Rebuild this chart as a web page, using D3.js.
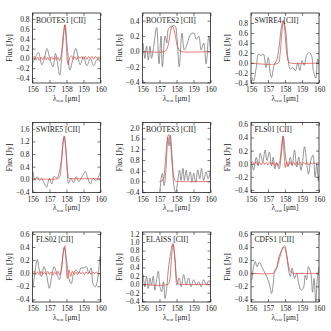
<!DOCTYPE html>
<html lang="en">
<head>
<meta charset="UTF-8">
<title>[CII] spectra</title>
<script src="https://d3js.org/d3.v7.min.js"></script>
<style>
  body { margin: 0; background: #fff; }
  svg text { font-family: "Liberation Serif", "DejaVu Serif", serif; fill: #1a1a1a; }
</style>
</head>
<body>
<div id="chart"></div>
<script>
// panel names and axis settings
var panelNames = ["BOOTES1 [CII]", "BOOTES2 [CII]", "SWIRE4 [CII]",
                  "SWIRE5 [CII]", "BOOTES3 [CII]", "FLS01 [CII]",
                  "FLS02 [CII]", "ELAISS [CII]", "CDFS1 [CII]"];
var xTicks = [156, 157, 158, 159, 160];
var yDomains = [[-0.5, 0.92], [-0.41, 0.5], [-0.4, 1.0],
                [-0.42, 1.8], [-0.41, 2.2], [-0.44, 0.63],
                [-0.44, 0.63], [-0.42, 1.24], [-0.44, 0.63]];
var yTicks = [
  [-0.4, -0.2, 0.0, 0.2, 0.4, 0.6, 0.8],
  [-0.4, -0.2, 0.0, 0.2, 0.4],
  [-0.4, -0.2, 0.0, 0.2, 0.4, 0.6, 0.8],
  [-0.4, 0.0, 0.4, 0.8, 1.2, 1.6],
  [-0.4, 0.0, 0.4, 0.8, 1.2, 1.6, 2.0],
  [-0.4, -0.2, 0.0, 0.2, 0.4, 0.6],
  [-0.4, -0.2, 0.0, 0.2, 0.4, 0.6],
  [-0.4, -0.2, 0.0, 0.2, 0.4, 0.6, 0.8, 1.0, 1.2],
  [-0.4, -0.2, 0.0, 0.2, 0.4, 0.6]
];

// observed spectra [lambda_rest, flux]
var obsBootes1 = [[156.0,-0.10],[156.15,0.0],[156.35,0.12],[156.55,-0.13],[156.7,0.0],[156.85,0.20],[157.0,0.02],
  [157.2,-0.17],[157.35,0.10],[157.45,-0.05],[157.6,-0.34],[157.75,0.15],[157.92,0.68],[158.05,0.2],[158.2,-0.24],
  [158.35,-0.05],[158.55,0.20],[158.8,-0.13],[159.0,0.03],[159.2,-0.15],[159.4,0.0],[159.6,-0.15],[159.8,-0.02],[160.0,-0.07]];
var obsBootes2 = [[156.04,0.11],[156.14,-0.09],[156.24,0.07],[156.34,-0.11],[156.44,0.07],[156.53,-0.09],[156.63,0.02],
  [156.83,0.31],[156.97,-0.16],[157.09,0.2],[157.17,-0.2],[157.33,0.2],[157.43,0.11],[157.52,0.29],[157.72,0.33],
  [157.92,0.33],[158.02,0.2],[158.16,-0.2],[158.32,0.24],[158.46,0.02],[158.65,0.11],[158.81,0.22],[159.01,0.24],
  [159.17,0.16],[159.31,0.2],[159.45,0.02],[159.6,0.11],[159.74,-0.16],[159.9,0.2],[160.0,-0.02]];
var obsSwire4 = [[156.06,-0.29],[156.15,-0.36],[156.31,-0.09],[156.44,0.18],[156.58,0.15],[156.73,0.18],[156.88,-0.09],
  [157.02,0.11],[157.12,-0.19],[157.21,-0.29],[157.35,-0.05],[157.5,0.05],[157.65,0.32],[157.79,0.72],[157.9,0.85],
  [158.04,0.65],[158.17,0.11],[158.31,-0.12],[158.46,-0.09],[158.62,-0.15],[158.75,0.01],[158.87,-0.15],[159.0,0.05],
  [159.13,-0.05],[159.27,0.15],[159.42,0.21],[159.56,0.15],[159.67,-0.15],[159.81,-0.3],[159.92,0.08],[160.0,-0.02]];
var obsSwire5 = [[156.04,0.24],[156.14,-0.02],[156.28,0.08],[156.4,-0.04],[156.53,0.03],[156.67,-0.11],[156.83,-0.25],
  [156.99,0.03],[157.13,-0.15],[157.27,0.1],[157.43,0.03],[157.58,0.24],[157.72,0.72],[157.86,1.36],[158.0,0.72],
  [158.12,-0.13],[158.26,0.03],[158.42,-0.11],[158.57,0.08],[158.73,-0.07],[158.91,0.08],[159.11,0.24],[159.25,0.03],
  [159.41,-0.15],[159.56,0.03],[159.72,-0.04],[159.84,0.03],[160.0,0.24]];
var obsBootes3 = [[157.03,-0.35],[157.11,0.17],[157.17,0.3],[157.27,-0.15],[157.39,0.55],[157.49,1.65],[157.56,1.33],
  [157.64,1.72],[157.74,0.94],[157.86,-0.22],[157.96,-0.41],[158.06,-0.03],[158.18,0.43],[158.26,0.04],[158.38,0.49],
  [158.46,0.04],[158.57,0.43],[158.67,0.04],[158.81,0.36],[158.91,-0.03],[159.01,0.3],[159.13,-0.03],[159.25,0.43],
  [159.37,0.1],[159.47,0.49],[159.6,0.04],[159.74,0.36],[159.86,0.1],[160.0,0.43]];
var obsFls01 = [[156.06,0.0],[156.15,-0.1],[156.31,0.1],[156.42,-0.03],[156.54,0.16],[156.69,0.03],[156.83,0.21],
  [156.94,0.05],[157.08,0.18],[157.21,-0.03],[157.31,0.1],[157.4,-0.08],[157.52,0.01],[157.65,-0.08],[157.79,0.16],
  [157.9,0.42],[158.04,0.1],[158.17,-0.05],[158.31,0.1],[158.42,-0.03],[158.56,0.21],[158.69,-0.05],[158.81,0.1],
  [158.94,-0.1],[159.04,0.05],[159.15,0.26],[159.27,0.03],[159.38,-0.16],[159.52,0.05],[159.65,0.13],[159.77,-0.21],
  [159.87,0.0],[159.96,-0.26],[160.0,-0.18]];
var obsFls02 = [[156.04,-0.21],[156.14,0.0],[156.28,0.21],[156.4,0.05],[156.53,-0.05],[156.67,0.1],[156.83,-0.03],
  [156.99,-0.23],[157.13,-0.05],[157.27,0.1],[157.43,0.0],[157.58,-0.1],[157.72,0.1],[157.86,0.39],[158.0,0.21],
  [158.14,-0.08],[158.28,-0.16],[158.42,0.0],[158.57,0.05],[158.71,0.0],[158.85,0.08],[159.01,0.08],[159.17,0.1],
  [159.31,0.0],[159.45,0.08],[159.56,-0.16],[159.7,-0.21],[159.84,-0.08],[159.96,0.26]];
var obsElaiss = [[156.04,0.23],[156.14,-0.06],[156.24,0.19],[156.34,-0.1],[156.44,0.15],[156.53,-0.02],[156.63,0.19],
  [156.73,-0.14],[156.83,0.11],[156.93,0.31],[157.03,-0.06],[157.13,-0.18],[157.23,0.06],[157.33,-0.34],[157.43,-0.06],
  [157.52,0.35],[157.66,0.75],[157.78,0.96],[157.92,0.59],[158.02,-0.02],[158.16,0.15],[158.28,-0.06],[158.42,0.23],
  [158.57,-0.02],[158.71,0.15],[158.85,-0.06],[159.01,0.11],[159.17,-0.02],[159.31,0.06],[159.45,-0.06],[159.6,0.11],
  [159.76,-0.02],[159.9,0.09],[160.0,0.02]];
var obsCdfs1 = [[156.06,-0.1],[156.15,0.1],[156.25,0.18],[156.35,0.1],[156.5,0.17],[156.63,0.1],[156.77,0.03],
  [156.92,-0.05],[157.08,-0.16],[157.21,-0.31],[157.31,-0.16],[157.4,0.05],[157.5,0.08],[157.65,0.26],[157.79,0.34],
  [157.88,0.39],[157.98,0.42],[158.08,0.31],[158.21,0.05],[158.31,-0.05],[158.42,0.08],[158.56,-0.08],[158.69,0.0],
  [158.81,-0.16],[158.94,-0.26],[159.08,-0.23],[159.19,-0.03],[159.27,-0.1],[159.38,0.1],[159.52,0.0],[159.62,-0.29],
  [159.71,-0.08],[159.81,-0.44],[159.9,-0.08],[160.0,0.1]];

// fitted models [lambda_rest, flux]
var fitBootes1 = [[156.0,0.0],[156.1,0.04],[156.2,-0.03],[156.3,0.03],[156.4,-0.04],[156.5,0.02],[156.6,-0.02],
  [156.7,0.04],[156.8,-0.03],[156.9,0.02],[157.0,-0.04],[157.1,0.03],[157.2,-0.02],[157.3,0.03],[157.4,-0.03],
  [157.5,0.02],[157.6,-0.05],[157.7,0.10],[157.8,0.45],[157.9,0.68],[157.97,0.40],[158.05,-0.05],[158.1,-0.13],
  [158.2,0.02],[158.3,0.05],[158.4,-0.02],[158.5,0.03],[158.6,-0.03],[158.7,0.04],[158.8,0.0],[158.9,0.04],
  [159.0,-0.02],[159.1,0.04],[159.2,-0.02],[159.3,0.04],[159.4,0.0],[159.5,0.04],[159.6,-0.02],[159.7,0.04],
  [159.8,0.0],[159.9,0.03],[160.0,0.0]];
var fitBootes2 = [[156.0,0],[157.3,0],[157.45,0.04],[157.55,0.13],[157.65,0.26],[157.75,0.33],[157.85,0.29],
  [157.95,0.18],[158.05,0.07],[158.15,0.02],[158.25,0],[160.0,0]];
var fitSwire4 = [[156.0,0],[157.6,0],[157.7,0.15],[157.8,0.55],[157.9,0.85],[158.0,0.6],[158.1,0.2],[158.2,0.03],
  [158.3,0],[160.0,0]];
var fitSwire5 = [[156.0,0.02],[157.5,0.02],[157.6,0.08],[157.7,0.5],[157.8,1.2],[157.87,1.36],[157.95,1.0],
  [158.05,0.3],[158.15,0.03],[158.25,0.02],[160.0,0.02]];
var fitBootes3 = [[157.0,0],[157.2,0.05],[157.3,0.4],[157.4,1.2],[157.5,1.7],[157.55,1.75],[157.65,1.4],
  [157.75,0.6],[157.85,0.15],[157.95,0.01],[158.05,0],[160.0,0]];
var fitFls01 = [[156.0,0.01],[156.1,0.03],[156.2,-0.01],[156.3,0.03],[156.4,-0.02],[156.5,0.02],[156.6,-0.02],
  [156.7,0.03],[156.8,-0.01],[156.9,0.02],[157.0,-0.02],[157.1,0.03],[157.2,-0.02],[157.3,0.02],[157.4,-0.03],
  [157.5,0.02],[157.6,-0.03],[157.7,0.05],[157.8,0.28],[157.87,0.42],[157.95,0.15],[158.02,-0.06],[158.1,0.03],
  [158.2,-0.03],[158.3,0.03],[158.4,-0.02],[158.5,0.02],[158.6,-0.02],[158.7,0.03],[158.8,-0.01],[158.9,0.02],
  [159.0,-0.02],[159.1,0.02],[159.2,-0.01],[159.3,0.02],[159.4,-0.02],[159.5,0.02],[159.6,-0.01],[159.7,0.02],
  [159.8,0.0],[159.9,0.02],[160.0,0.0]];
var fitFls02 = [[156.0,0.0],[156.1,0.03],[156.2,-0.02],[156.3,0.02],[156.4,-0.02],[156.5,0.03],[156.6,-0.02],
  [156.7,0.02],[156.8,-0.02],[156.9,0.03],[157.0,-0.02],[157.1,0.02],[157.2,-0.03],[157.3,0.02],[157.4,-0.02],
  [157.5,0.03],[157.6,-0.03],[157.7,0.06],[157.8,0.3],[157.9,0.42],[157.97,0.2],[158.05,-0.08],[158.15,0.05],
  [158.25,-0.05],[158.35,0.03],[158.45,-0.02],[158.55,0.02],[158.65,-0.02],[158.75,0.02],[158.85,-0.01],
  [158.95,0.02],[159.05,-0.02],[159.15,0.02],[159.25,-0.01],[159.35,0.02],[159.45,-0.02],[159.55,0.02],
  [159.65,-0.01],[159.75,0.02],[159.85,-0.01],[160.0,0.0]];
var fitElaiss = [[156.0,0],[157.5,0],[157.6,0.1],[157.7,0.6],[157.8,0.96],[157.9,0.6],[158.0,0.15],[158.1,0.01],
  [158.2,0],[160.0,0]];
var fitCdfs1 = [[156.0,0],[157.3,0],[157.45,0.04],[157.6,0.15],[157.75,0.3],[157.9,0.4],[158.0,0.38],[158.1,0.27],
  [158.2,0.13],[158.3,0.04],[158.4,0.01],[158.5,0],[160.0,0]];

var observed = [obsBootes1, obsBootes2, obsSwire4, obsSwire5, obsBootes3, obsFls01, obsFls02, obsElaiss, obsCdfs1];
var fits = [fitBootes1, fitBootes2, fitSwire4, fitSwire5, fitBootes3, fitFls01, fitFls02, fitElaiss, fitCdfs1];

var colLeft = [32.5, 142.5, 251];
var rowTop = [13, 122.5, 232];
var pw = 68, ph = 70;

var svg = d3.select("#chart").append("svg")
    .attr("width", 331)
    .attr("height", 331);

panelNames.forEach(function(name, i) {
    var col = i % 3, row = Math.floor(i / 3);
    var g = svg.append("g")
        .attr("transform", "translate(" + colLeft[col] + "," + rowTop[row] + ")");

    var x = d3.scaleLinear().domain([156, 160]).range([0, pw]);
    var y = d3.scaleLinear().domain(yDomains[i]).range([ph, 0]);

    g.append("clipPath").attr("id", "clip" + i)
      .append("rect").attr("width", pw).attr("height", ph);

    var lineGen = d3.line()
        .x(function(d) { return x(d[0]); })
        .y(function(d) { return y(d[1]); })
        .curve(d3.curveCatmullRom.alpha(0.5));

    var plot = g.append("g").attr("clip-path", "url(#clip" + i + ")");
    plot.append("path")
        .datum(observed[i])
        .attr("d", lineGen)
        .attr("fill", "none")
        .attr("stroke", "#7a7a7a")
        .attr("stroke-width", 0.8);
    plot.append("path")
        .datum(fits[i])
        .attr("d", lineGen)
        .attr("fill", "none")
        .attr("stroke", "#e4403c")
        .attr("stroke-width", 0.7);

    // axes, ticks point inward
    var fmt = d3.format(".1f");
    g.append("g")
        .attr("transform", "translate(0," + ph + ")")
        .call(d3.axisBottom(x).tickValues(xTicks).tickSize(-3).tickPadding(4).tickFormat(d3.format("d")));
    g.append("g")
        .call(d3.axisLeft(y).tickValues(yTicks[i]).tickSize(-3).tickPadding(3).tickFormat(fmt));
    g.append("g").attr("transform", "translate(" + pw + ",0)")
        .call(d3.axisRight(y).tickValues(yTicks[i]).tickSize(-3).tickFormat(""));
    g.append("g")
        .call(d3.axisTop(x).tickValues(xTicks).tickSize(-3).tickFormat(""));

    g.selectAll(".domain").remove();
    g.selectAll(".tick line").attr("stroke", "#222").attr("stroke-width", 0.6);
    g.selectAll(".tick text")
        .style("font-family", "Liberation Serif, serif")
        .style("font-size", "7.5px")
        .attr("fill", "#1a1a1a");

    g.append("rect")
        .attr("width", pw)
        .attr("height", ph)
        .attr("fill", "none")
        .attr("stroke", "#222")
        .attr("stroke-width", 0.8);

    // panel title
    g.append("text")
        .attr("x", 3.5)
        .attr("y", 9.5)
        .style("font-size", "7.5px")
        .text(name);

    // y label
    g.append("text")
        .attr("transform", "translate(-21," + (ph / 2) + ") rotate(-90)")
        .style("text-anchor", "middle")
        .style("font-size", "7.5px")
        .text("Flux [Jy]");

    // x label
    var xl = g.append("text")
        .attr("x", pw / 2)
        .attr("y", ph + 17.5)
        .style("text-anchor", "middle")
        .style("font-size", "7.5px");
    xl.append("tspan").text("\u03bb");
    xl.append("tspan").attr("dy", 1.5).style("font-size", "4.5px").text("rest");
    xl.append("tspan").attr("dy", -1.5).text(" [\u03bcm]");
});
</script>
</body>
</html>
